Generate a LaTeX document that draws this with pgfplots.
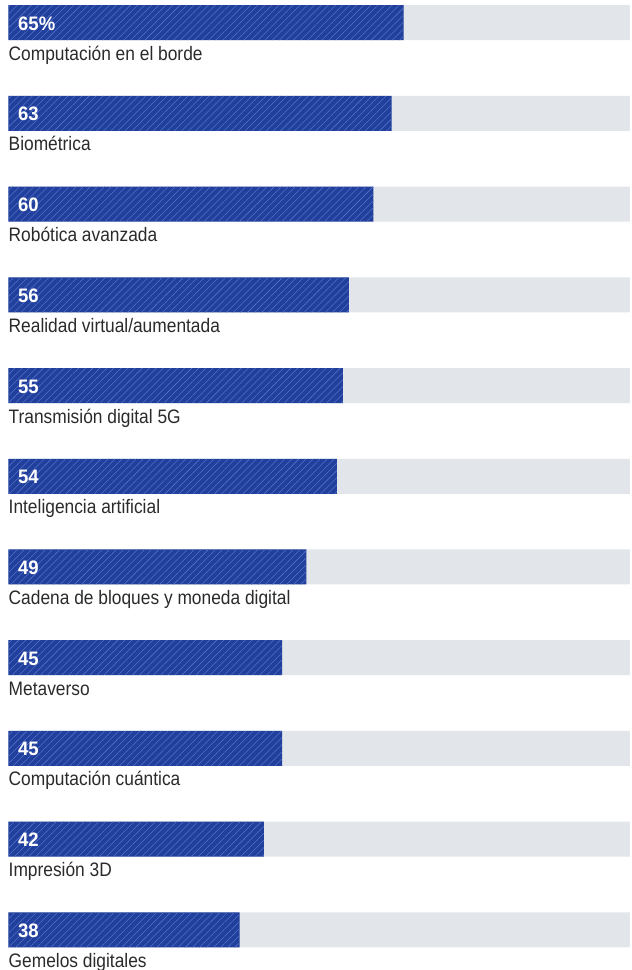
\documentclass[border=0pt]{standalone}
\usepackage{pgfplots}
\pgfplotsset{compat=1.18}
\usepackage{pgfplotstable}
\usetikzlibrary{patterns.meta}
\usepackage{fontspec}
\setmainfont{Liberation Sans}[FakeStretch=0.89]
\newfontfamily\valfont{Liberation Sans}[FakeStretch=0.95]
\definecolor{barblue}{HTML}{213F9C}
\definecolor{stripe}{HTML}{5472C6}
\definecolor{track}{HTML}{E2E6EA}
\definecolor{txt}{HTML}{2A2A2A}
\pgfplotstableread[col sep=comma]{
y,v,lab,name
0,65,65\%,Computación en el borde
1,63,63,Biométrica
2,60,60,Robótica avanzada
3,56,56,Realidad virtual/aumentada
4,55,55,Transmisión digital 5G
5,54,54,Inteligencia artificial
6,49,49,Cadena de bloques y moneda digital
7,45,45,Metaverso
8,45,45,Computación cuántica
9,42,42,Impresión 3D
10,38,38,Gemelos digitales
}\datatable
\pgfplotstableread[col sep=comma]{
y,v
0,102.2
1,102.2
2,102.2
3,102.2
4,102.2
5,102.2
6,102.2
7,102.2
8,102.2
9,102.2
10,102.2
}\tracktable
\begin{document}
\begin{tikzpicture}
\begin{axis}[
  name=main,
  scale only axis,
  width=632pt, height=970pt,
  xmin=-1.398, xmax=102.55,
  ymin=-0.248, ymax=10.441,
  y dir=reverse,
  hide axis,
  clip=false,
]
\addplot[xbar, bar width=35pt, bar shift=0pt, fill=track, draw=none] table[x=v,y=y] {\tracktable};
\addplot[xbar, bar width=35pt, bar shift=0pt, fill=barblue, draw=none,
  postaction={pattern={Lines[angle=45,distance=5pt,line width=0.55pt]}, pattern color=stripe}] table[x=v,y=y] {\datatable};
\addplot[only marks, mark=none, point meta=explicit symbolic,
  nodes near coords,
  every node near coord/.style={anchor=base west, inner sep=0pt, xshift=9.5pt, yshift=-7.5pt, text=white, font=\valfont\fontsize{19.5}{22}\selectfont\bfseries}]
  table[x expr=0, y=y, meta=lab] {\datatable};
\addplot[only marks, mark=none, point meta=explicit symbolic,
  nodes near coords,
  every node near coord/.style={anchor=base west, inner sep=0pt, yshift=-37.5pt, text=txt, font=\fontsize{19.5}{22}\selectfont}]
  table[x expr=0, y=y, meta=name] {\datatable};
\end{axis}
\pgfresetboundingbox
\path (main.south west) rectangle (main.north east);
\end{tikzpicture}
\end{document}
